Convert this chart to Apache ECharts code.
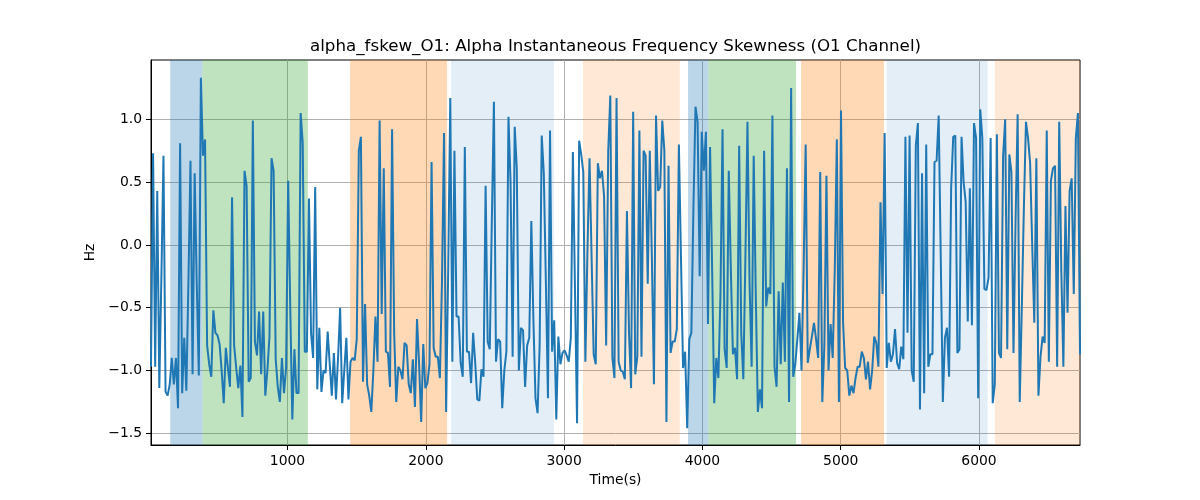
<!DOCTYPE html>
<html><head><meta charset="utf-8">
<script src="https://cdn.jsdelivr.net/npm/echarts@6/dist/echarts.min.js"></script>
<style>html,body{margin:0;padding:0;background:#fff}#chart{width:1200px;height:500px}</style>
</head><body><div id="chart"></div>
<script>
// Alpha instantaneous frequency skewness (Hz), read left to right in 8 stretches
const seg1 = [-0.97, 0.73, -0.97, 0.43, -1.14, -0.25, 0.71, -1.17, -1.2, -1.11, -0.9, -1.11, -0.9, -1.30, 0.81, -1.18, -0.74, -1.16, -0.3, 0.67, -1.03, 0.57, -0.3, -1.04, 1.33, 0.71, 0.84, -0.8, -0.95, -1.05, -0.52, -0.7, -0.72, -0.79, -1.0, -1.26, -0.82, -0.98, -1.13, 0.38, -0.8, -0.98, -1.14, -0.96, -1.37, 0.59, 0.47, -1.09, -1.06, 0.99, -0.77, -0.88, -0.53, -1.03, -0.53];
const seg2 = [-1.2, -1.0, -0.73, 0.69, 0.59, -0.91, -1.13, -1.25, -0.9, -1.18, -0.98, 0.51, -0.5, -1.39, -0.83, -1.18, -1.18, 1.05, 0.81, -0.85, -0.85, 0.37, -0.7, -0.9, 0.46, -1.15, -0.66, -1.17, -1.0, -1.02, -0.69, -0.95, -1.2, -0.86, -1.23, -0.9, -0.5, -1.26, -1.0, -0.74, -1.23, -0.93, -0.9, -0.92, -0.75, 0.75, 0.86, -1.09, -0.47, -1.11, -1.2, -1.33, -1.0, -0.57, -0.93, 0.99];
const seg3 = [-0.55, 0.61, -0.85, -0.86, -1.13, 0.92, -0.7, -1.25, -0.97, -1.0, -1.07, -0.78, -0.8, -1.11, -1.18, -0.91, -1.29, -0.59, -0.95, -1.41, -0.79, -1.14, -1.1, -0.95, 0.66, -0.82, -0.89, -0.89, -1.06, -0.3, 0.89, -1.33, -0.2, 1.17, -0.93, 0.75, -0.57, -0.57, -0.94, -1.05, 0.78, -0.85, -0.85, -1.1, -0.7, -0.94, -1.23, -1.24, -0.99, -1.05, 0.47, -0.77, -0.83, 0.2, 1.14];
const seg4 = [-0.93, -0.75, -0.77, -1.3, -1.0, -0.85, 1.02, 0.5, -0.89, 0.94, 0.61, -1.0, -0.66, -0.68, -1.13, -0.8, -0.74, 0.19, -0.6, -1.22, -1.34, -0.8, 0.87, 0.57, -0.3, -1.22, 0.91, -0.85, -0.6, -1.39, -0.73, -0.95, -0.86, -0.84, -0.88, -0.93, -0.74, 0.74, -0.35, -1.42, 0.83, 0.72, 0.58, -0.93, -0.05, 0.69, -0.1, -0.87, -0.95, 0.65, 0.53, 0.59, 0.39, -0.8, 0.75, 1.19];
const seg5 = [-0.9, -1.06, 1.17, -0.93, -1.0, -1.01, -1.07, 0.27, -0.7, -1.14, 1.06, -1.03, -0.89, 0.91, -0.89, 0.75, 0.71, -0.31, 0.75, -0.1, -1.11, 1.03, 0.43, 0.46, 0.99, 0.75, -1.41, 0.63, -0.86, -0.77, -0.77, -0.67, 0.8, -0.1, -0.98, -0.85, -1.46, -0.75, -0.7, 0.3, 1.1, 0.98, -0.25, 0.9, 0.59, 0.9, -0.63, 0.78, -0.2, -1.26, -0.9, -1.06, -0.4, 0.92, -0.83, -0.98];
const seg6 = [0.59, -0.2, -0.87, -0.82, -1.07, 0.79, -0.7, -1.07, -0.1, 0.98, -0.3, -0.97, 0.71, -0.4, -1.33, -1.15, -1.3, 0.75, -0.49, -0.34, -0.39, 1.03, -0.97, -1.13, -0.37, -0.95, -0.3, -0.93, 0.61, -1.25, 1.25, -1.05, -0.95, -0.75, -0.54, -1.0, -0.2, 0.8, -0.94, -0.83, -0.73, -0.62, -0.75, -0.9, 0.58, -1.25, -0.8, 0.55, -1.0, -0.63, -0.9, -0.2, 0.84, -1.25, 1.07];
const seg7 = [-0.62, -0.98, -1.0, -1.2, -1.12, -1.18, -1.06, -0.97, -0.97, -0.85, -0.9, -1.07, -0.93, -1.15, -1.0, -0.73, -0.78, -0.97, 0.34, -0.39, 0.89, -0.98, -0.78, -0.93, -0.87, -0.67, -0.94, -0.99, -0.81, -0.91, 0.86, -0.7, 0.87, -1.0, -1.09, 0.79, 0.97, -1.31, 0.57, -1.18, 0.8, -0.97, -0.87, -0.87, 0.66, 0.67, 1.03, -0.1, -1.25, -0.74, -0.66, -1.05, 0.45, 0.86, 0.87];
const seg8 = [-0.86, -0.83, 0.86, 0.5, 0.34, -0.61, 0.45, -0.64, 0.97, 0.85, -1.22, 1.08, 0.85, -0.35, -0.36, -0.26, 0.85, -1.26, -1.11, 0.88, -0.86, -0.9, 0.71, 1.0, -0.83, 0.72, 0.58, -0.86, 0.2, 1.04, -1.25, -0.5, 0.3, 0.98, 0.85, 0.65, 0.0, -0.62, 0.69, -1.2, -0.89, -0.73, -0.78, 0.91, -0.93, 0.51, 0.61, 0.63, -0.97, 0.98, -0.2, -0.97, 0.31, -0.54, 0.43, 0.53, -0.39, 0.85, 1.05, -0.87];

// time span of the recording (s)
const timeStart = 13;
const timeEnd = 6730;

// axis ticks
const xTickValues = [1000, 2000, 3000, 4000, 5000, 6000];
const yTickValues = [-1.5, -1.0, -0.5, 0.0, 0.5, 1.0];
const yMin = -1.593, yMax = 1.472;

// shaded stages
const stageStart = [152, 386, 1453, 2183, 3137, 3896, 4043, 4713, 5332, 6115];
const stageEnd   = [386, 1147, 2154, 2926, 3836, 4043, 4677, 5313, 6062, 6730];
const stageKind  = ['A', 'B', 'C', 'D', 'E', 'A', 'B', 'C', 'D', 'E'];

const titleText = 'alpha_fskew_O1: Alpha Instantaneous Frequency Skewness (O1 Channel)';

const stageColors = {
  A: 'rgba(31,119,180,0.30)',
  B: 'rgba(44,160,44,0.30)',
  C: 'rgba(255,127,14,0.30)',
  D: 'rgba(31,119,180,0.12)',
  E: 'rgba(255,127,14,0.17)'
};

const values = [].concat(seg1, seg2, seg3, seg4, seg5, seg6, seg7, seg8);
const n = values.length;
const step = (timeEnd - timeStart) / (n - 1);
const lineData = values.map((v, i) => [timeStart + i * step, v]);

const FONT = 'DejaVu Sans';
const fmtMinus = v => String(v).replace('-', '\u2212');

const chart = echarts.init(document.getElementById('chart'), null, {renderer: 'canvas'});
chart.setOption({
  animation: false,
  backgroundColor: '#fff',
  grid: {left: 151, right: 120, top: 60, bottom: 55, show: true, borderColor: '#000', borderWidth: 1, backgroundColor: 'transparent', containLabel: false},
  graphic: [{
    type: 'text', x: 615.5, y: 47,
    style: {text: titleText, align: 'center', verticalAlign: 'middle', fontFamily: FONT, fontSize: 16.7, fill: '#000'}
  }],
  xAxis: {
    type: 'value', min: timeStart, max: timeEnd,
    name: 'Time(s)', nameLocation: 'middle', nameGap: 28,
    nameTextStyle: {fontFamily: FONT, fontSize: 13.9, color: '#000'},
    axisLine: {show: true, onZero: false, lineStyle: {color: '#000', width: 1}},
    axisTick: {show: true, customValues: xTickValues, length: 5, lineStyle: {color: '#000', width: 1}},
    axisLabel: {customValues: xTickValues, margin: 9, fontFamily: FONT, fontSize: 13.9, color: '#000', formatter: v => String(v)},
    splitLine: {show: true, lineStyle: {color: '#b0b0b0', width: 1}}
  },
  yAxis: {
    type: 'value', min: yMin, max: yMax,
    name: 'Hz', nameLocation: 'middle', nameGap: 51, nameRotate: 90,
    nameTextStyle: {fontFamily: FONT, fontSize: 13.9, color: '#000'},
    axisLine: {show: true, onZero: false, lineStyle: {color: '#000', width: 1}},
    axisTick: {show: true, customValues: yTickValues, length: 5, lineStyle: {color: '#000', width: 1}},
    axisLabel: {customValues: yTickValues, margin: 9, fontFamily: FONT, fontSize: 13.9, color: '#000', formatter: v => fmtMinus(Number(v).toFixed(1))},
    splitLine: {show: true, lineStyle: {color: '#b0b0b0', width: 1}}
  },
  series: [{
    type: 'line',
    data: lineData,
    showSymbol: false,
    symbol: 'none',
    lineStyle: {color: '#1f77b4', width: 2},
    itemStyle: {color: '#1f77b4'},
    z: 3,
    markArea: {
      silent: true,
      data: stageStart.map((s, i) => [
        {xAxis: s, itemStyle: {color: stageColors[stageKind[i]]}},
        {xAxis: stageEnd[i]}
      ])
    }
  }]
});
</script></body></html>
